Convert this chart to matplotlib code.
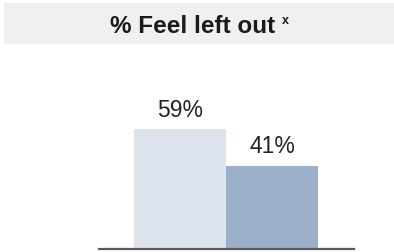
import matplotlib
matplotlib.use("Agg")
import matplotlib.pyplot as plt
from matplotlib.patches import Rectangle

# Data
categories = ["Group 1", "Group 2"]
values = [59, 41]
labels = ["59%", "41%"]
bar_colors = ["#dce3ed", "#9bafcb"]
title = "% Feel left out"
title_sup = "x"

W, H = 394, 252
fig = plt.figure(figsize=(W / 100, H / 100), dpi=100)
fig.patch.set_facecolor("white")

# Title band
fig.patches.append(Rectangle((4 / W, 1 - 44 / H), 1 - 4 / W, 41 / H,
                             transform=fig.transFigure, facecolor="#f0f0f0",
                             edgecolor="none", zorder=0))
fig.text(110 / W, 1 - 33 / H, title, ha="left", va="baseline",
         fontsize=17.5, fontweight="bold", family="Liberation Sans",
         color="#1a1a1a")
fig.text(282 / W, 1 - 24 / H, title_sup, ha="left", va="baseline",
         fontsize=9, fontweight="bold", family="Liberation Sans",
         color="#1a1a1a")

# Axes: x from 99 to 354 px, baseline at 249 px
left, right = 99, 354
bottom, top = 249, 60
ax = fig.add_axes([left / W, 1 - bottom / H, (right - left) / W, (bottom - top) / H])
px_per_unit = 2.03
ax.set_ylim(0, (bottom - top) / px_per_unit)
ax.set_xlim(-0.5 - 35 / 92, 1.5 + 36 / 92)

x = list(range(len(categories)))
ax.bar(x, values, width=1.0, color=bar_colors, edgecolor="none")
for xi, v, lab in zip(x, values, labels):
    ax.annotate(lab, (xi, v), xytext=(0, 5.5), textcoords="offset points",
                ha="center", va="bottom", fontsize=16.5,
                family="Liberation Sans", color="#222222")

for s in ["top", "left", "right"]:
    ax.spines[s].set_visible(False)
ax.spines["bottom"].set_color("#595959")
ax.spines["bottom"].set_linewidth(1.6)
ax.set_xticks([])
ax.set_yticks([])
ax.patch.set_alpha(0)

fig.savefig("out.png", dpi=100)
